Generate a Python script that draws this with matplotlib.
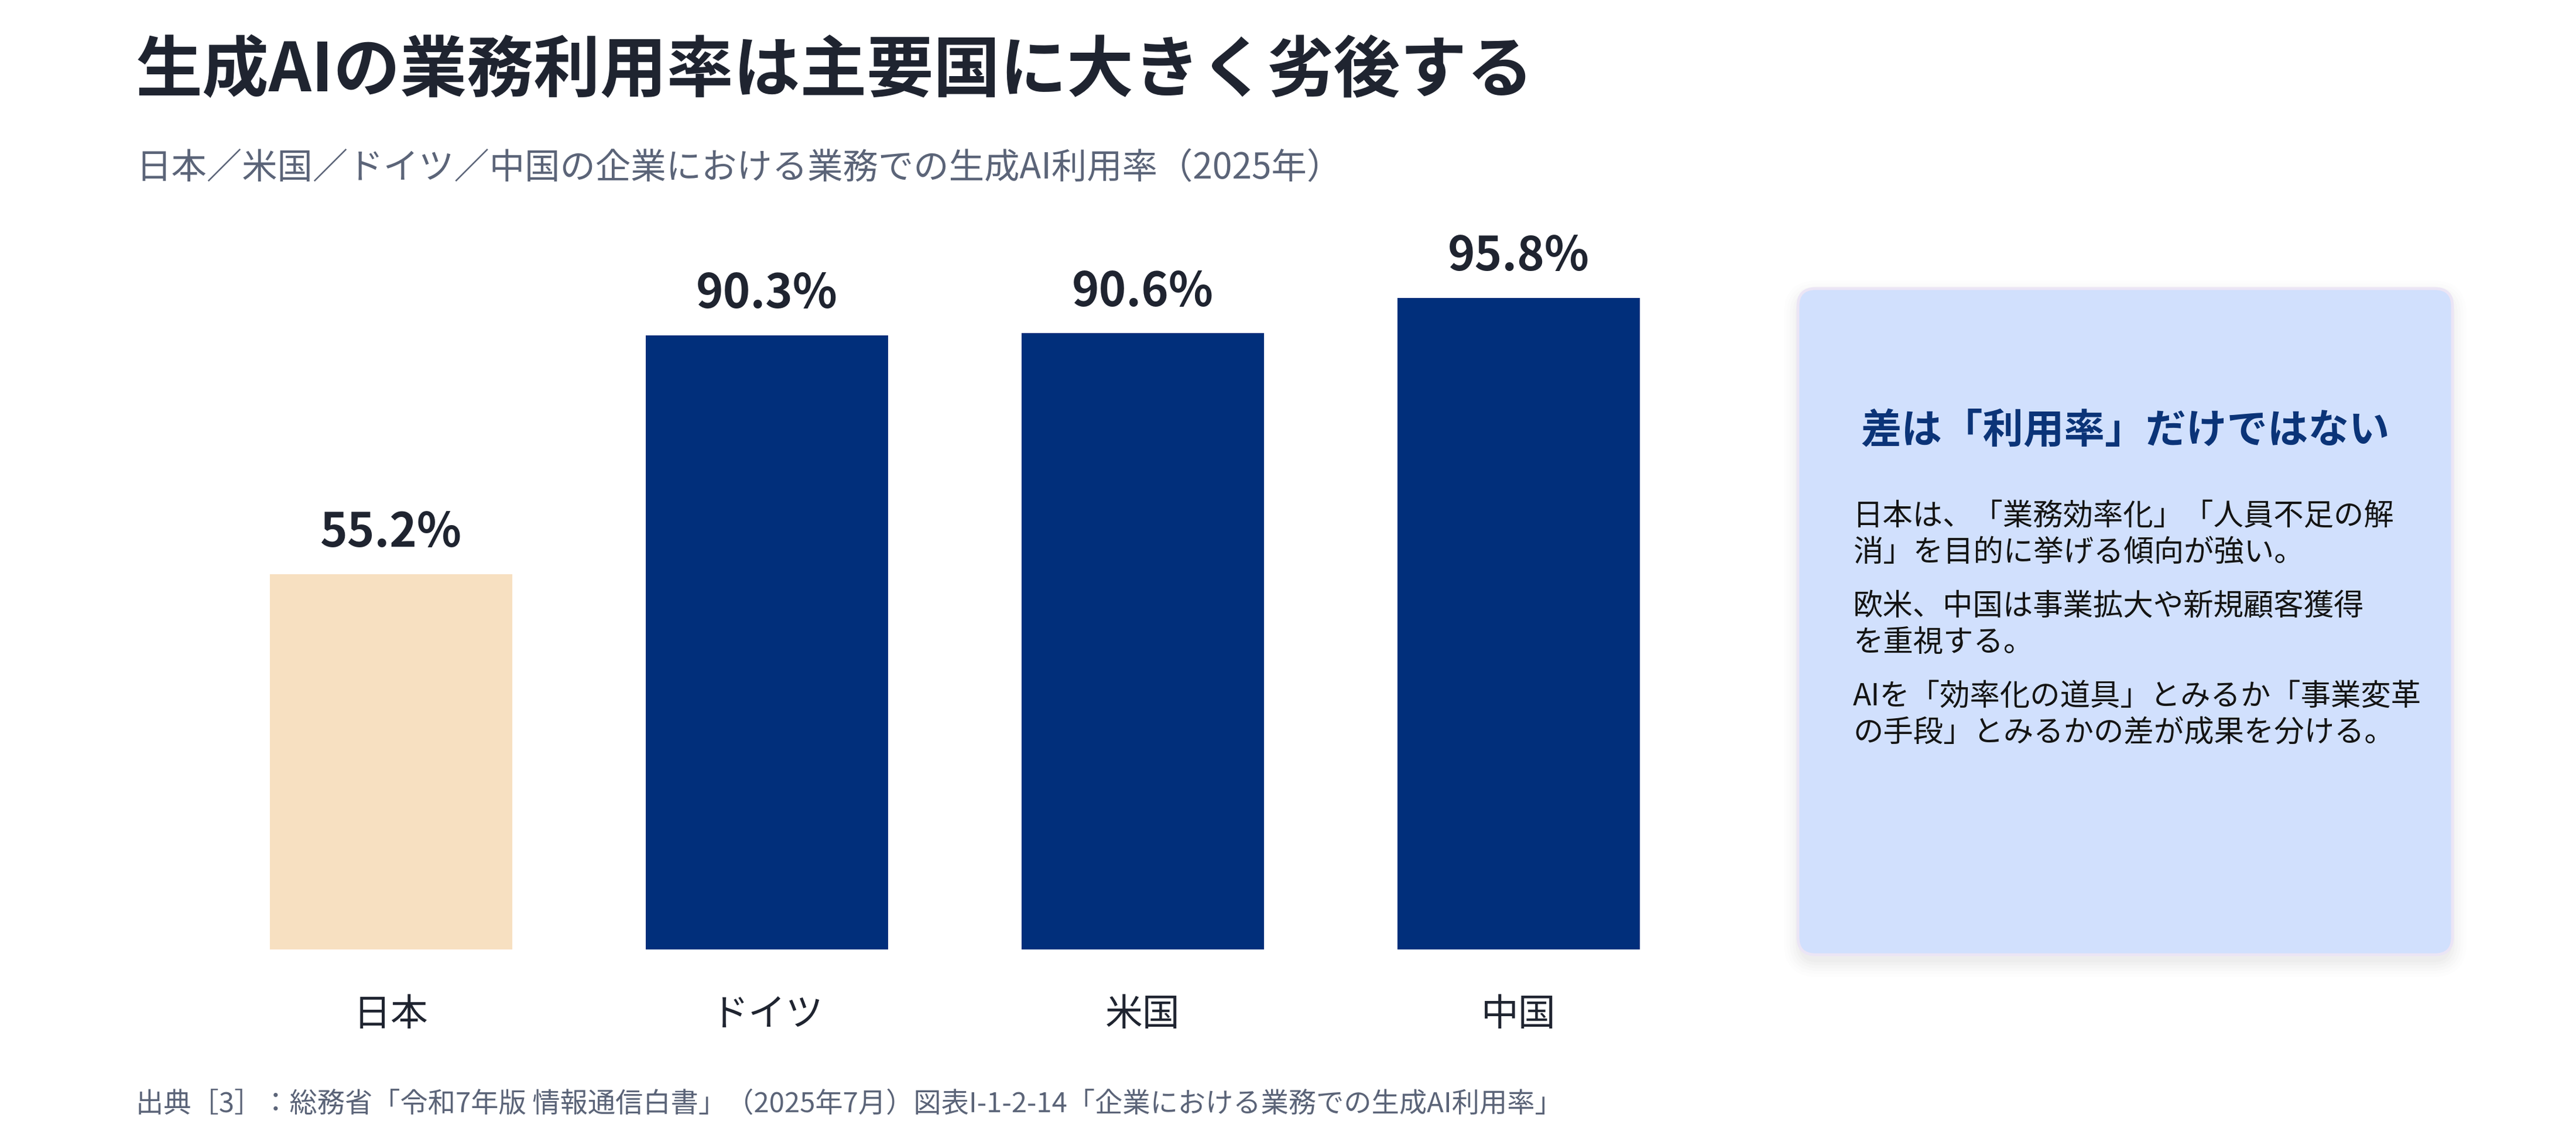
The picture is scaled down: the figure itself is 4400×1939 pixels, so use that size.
import matplotlib
matplotlib.use('Agg')
import matplotlib.pyplot as plt
from matplotlib.patches import FancyBboxPatch

plt.rcParams['font.family'] = ['Noto Sans CJK JP', 'DejaVu Sans']

# ---- data ----
countries = ['日本', 'ドイツ', '米国', '中国']
rates = [55.2, 90.3, 90.6, 95.8]
value_labels = ['55.2%', '90.3%', '90.6%', '95.8%']
bar_colors = ['#f7e0c1', '#012f7b', '#012f7b', '#012f7b']

title = '生成AIの業務利用率は主要国に大きく劣後する'
subtitle = '日本／米国／ドイツ／中国の企業における業務での生成AI利用率（2025年）'
source = '出典［3］：総務省「令和7年版 情報通信白書」（2025年7月）図表I-1-2-14「企業における業務での生成AI利用率」'
box_title = '差は「利用率」だけではない'
box_paras = [
    ['日本は、「業務効率化」「人員不足の解', '消」を目的に挙げる傾向が強い。'],
    ['欧米、中国は事業拡大や新規顧客獲得', 'を重視する。'],
    ['AIを「効率化の道具」とみるか「事業変革', 'の手段」とみるかの差が成果を分ける。'],
]

DARK = '#1f2430'
GREY = '#5b6478'

W, H = 4400, 1940
fig = plt.figure(figsize=(W / 100, H / 100), dpi=100, facecolor='white')

# overlay axes in pixel coordinates for layout
ov = fig.add_axes([0, 0, 1, 1])
ov.set_xlim(0, W)
ov.set_ylim(H, 0)
ov.axis('off')

# ---- bar chart ----
ax = fig.add_axes([347 / W, (H - 1623) / H, 2568 / W, 1162 / H])
ax.set_facecolor('none')
xpos = list(range(len(countries)))
ax.bar(xpos, rates, width=0.645, color=bar_colors)
ax.set_xlim(-0.5, len(countries) - 0.5)
ax.set_ylim(0, 100)
for s in ax.spines.values():
    s.set_visible(False)
ax.set_yticks([])
ax.set_xticks(xpos)
ax.set_xticklabels(countries, fontsize=46, color=DARK)
ax.tick_params(axis='x', length=0, pad=56)
for xi, r, lab in zip(xpos, rates, value_labels):
    ax.annotate(lab, (xi, r), xytext=(0, 22), textcoords='offset points',
                ha='center', va='bottom', fontsize=57, fontweight='bold', color=DARK)

# ---- titles ----
ov.text(232, 156, title, fontsize=82, fontweight='bold', color=DARK, va='baseline', ha='left')
ov.text(232, 305, subtitle, fontsize=43.5, color=GREY, va='baseline', ha='left')
ov.text(232, 1899, source, fontsize=34, color=GREY, va='baseline', ha='left')

# ---- side box ----
bx0, by0, bx1, by1 = 3071, 494, 4189, 1632
rad = 30
for i, a in enumerate([0.016, 0.014, 0.012, 0.010, 0.008, 0.006]):
    grow = 3 + i * 5
    sh = FancyBboxPatch((bx0 - grow + 4, by0 - grow + 14), (bx1 - bx0) + 2 * grow - 8,
                        (by1 - by0) + 2 * grow - 4,
                        boxstyle=f'round,pad=0,rounding_size={rad + grow}',
                        facecolor='black', edgecolor='none', alpha=a, zorder=1)
    ov.add_patch(sh)
box = FancyBboxPatch((bx0, by0), bx1 - bx0, by1 - by0,
                     boxstyle=f'round,pad=0,rounding_size={rad}',
                     facecolor='#d1e0fd', edgecolor='#ebe5f5', linewidth=3.5, zorder=2)
ov.add_patch(box)

ov.text((bx0 + bx1) / 2, 757, box_title, fontsize=50, fontweight='bold', color='#0b3478',
        ha='center', va='baseline', zorder=3)

yb = 897
for para in box_paras:
    for line in para:
        ov.text(3165, yb, line, fontsize=37, color='#141414', ha='left', va='baseline', zorder=3)
        yb += 62
    yb += 30

fig.savefig('out.png', dpi=100, facecolor='white')
